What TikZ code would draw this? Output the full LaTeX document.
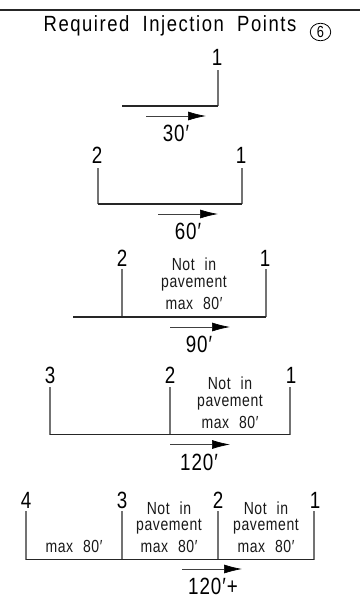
\documentclass[tikz,border=0pt]{standalone}
\usepackage{fontspec}
\usetikzlibrary{arrows.meta,shapes.geometric}
\newfontfamily\cadfont[FakeStretch=0.8,LetterSpace=4,WordSpace=2]{Liberation Sans}
\newfontfamily\ttlfont[FakeStretch=0.84,LetterSpace=7,WordSpace=2]{Liberation Sans}
\newfontfamily\notefont[FakeStretch=0.8,LetterSpace=3.5,WordSpace=2.2]{Liberation Sans}
\tikzset{
  x=1pt,y=-1pt,
  road/.style={draw=black!85,line width=1.4pt},
  post/.style={draw=black!55,line width=1.3pt},
  dir/.style={draw=black!75,line width=0.7pt,-{Latex[length=18pt,width=9pt,black]}},
  num/.style={font=\cadfont\fontsize{23.5}{24}\selectfont,inner sep=0pt,text=black},
  note/.style={font=\notefont\fontsize{17.5}{18}\selectfont,inner sep=0pt,text=black!90},
  ttl/.style={font=\ttlfont\fontsize{22}{22}\selectfont,inner sep=0pt,text=black},
}
\begin{document}
\begin{tikzpicture}
\useasboundingbox (0,0) rectangle (360,603);
\fill[white] (0,0) rectangle (360,603);
% top rule
\coordinate (ruleL) at (0,10); \coordinate (ruleR) at (360,10);
\draw[draw=black!85,line width=1.5pt] (ruleL) -- (ruleR);
\node[ttl] (title) at (170,26) {Required Injection Points};
\node[draw=black,ellipse,line width=0.8pt,minimum width=20.5pt,minimum height=17.5pt,inner sep=0pt,font=\cadfont\fontsize{16}{16}\selectfont] (six) at (320.5,32) {6};
% row 1
\node[num] (a1) at (217,57) {1};
\coordinate (a1t) at (218,70); \coordinate (a1b) at (218,106); \coordinate (aL) at (122,106);
\draw[post] (a1t) -- (a1b);
\draw[road] (aL) -- (a1b);
\coordinate (aA) at (146,116); \coordinate (aB) at (206,116);
\draw[dir] (aA) -- (aB);
\node[num] (aT) at (176,133) {30′};
% row 2
\node[num] (b2) at (97,155) {2};
\node[num] (b1) at (241,155) {1};
\coordinate (b2t) at (98,168); \coordinate (b2b) at (98,204);
\coordinate (b1t) at (242,168); \coordinate (b1b) at (242,204);
\draw[post] (b2t) -- (b2b);
\draw[post] (b1t) -- (b1b);
\draw[road] (b2b) -- (b1b);
\coordinate (bA) at (158,214); \coordinate (bB) at (218,214);
\draw[dir] (bA) -- (bB);
\node[num] (bT) at (188,231) {60′};
% row 3
\node[num] (c2) at (122,258) {2};
\node[num] (c1) at (265,258) {1};
\coordinate (c2t) at (122,269); \coordinate (c2b) at (122,317);
\coordinate (c1t) at (266,269); \coordinate (c1b) at (266,317);
\coordinate (cL) at (73,317);
\draw[post] (c2t) -- (c2b);
\draw[post] (c1t) -- (c1b);
\draw[road] (cL) -- (c1b);
\node[note] (cn1) at (194,264) {Not in};
\node[note] (cn2) at (194,284) {pavement};
\node[note] (cn3) at (194,303) {max 80′};
\coordinate (cA) at (170,327); \coordinate (cB) at (230,327);
\draw[dir] (cA) -- (cB);
\node[num] (cT) at (199,344) {90′};
% row 4
\node[num] (d3) at (50,375) {3};
\node[num] (d2) at (170,375) {2};
\node[num] (d1) at (291,375) {1};
\coordinate (d3t) at (50,387); \coordinate (d3b) at (50,434.5);
\coordinate (d2t) at (170,387); \coordinate (d2b) at (170,434.5);
\coordinate (d1t) at (290,387); \coordinate (d1b) at (290,434.5);
\draw[post] (d3t) -- (d3b);
\draw[post] (d2t) -- (d2b);
\draw[post] (d1t) -- (d1b);
\draw[road] (d3b) -- (d1b);
\node[note] (dn1) at (230,383) {Not in};
\node[note] (dn2) at (230,403) {pavement};
\node[note] (dn3) at (230,422) {max 80′};
\coordinate (dA) at (170,444.5); \coordinate (dB) at (230,444.5);
\draw[dir] (dA) -- (dB);
\node[num] (dT) at (199,462) {120′};
% row 5
\node[num] (e4) at (26,500) {4};
\node[num] (e3) at (122,500) {3};
\node[num] (e2) at (218,500) {2};
\node[num] (e1) at (315,500) {1};
\coordinate (e4t) at (26,511); \coordinate (e4b) at (26,559.5);
\coordinate (e3t) at (122,511); \coordinate (e3b) at (122,559.5);
\coordinate (e2t) at (218,511); \coordinate (e2b) at (218,559.5);
\coordinate (e1t) at (314,511); \coordinate (e1b) at (314,559.5);
\draw[post] (e4t) -- (e4b);
\draw[post] (e3t) -- (e3b);
\draw[post] (e2t) -- (e2b);
\draw[post] (e1t) -- (e1b);
\draw[road] (e4b) -- (e1b);
\node[note] (em) at (74,546) {max 80′};
\node[note] (en1) at (169,508) {Not in};
\node[note] (en2) at (169,527) {pavement};
\node[note] (en3) at (169,546) {max 80′};
\node[note] (ep1) at (266,508) {Not in};
\node[note] (ep2) at (266,527) {pavement};
\node[note] (ep3) at (266,546) {max 80′};
\coordinate (eA) at (182,569); \coordinate (eB) at (242,569);
\draw[dir] (eA) -- (eB);
\node[num] (eT) at (213,586) {120′+};
\end{tikzpicture}
\end{document}
